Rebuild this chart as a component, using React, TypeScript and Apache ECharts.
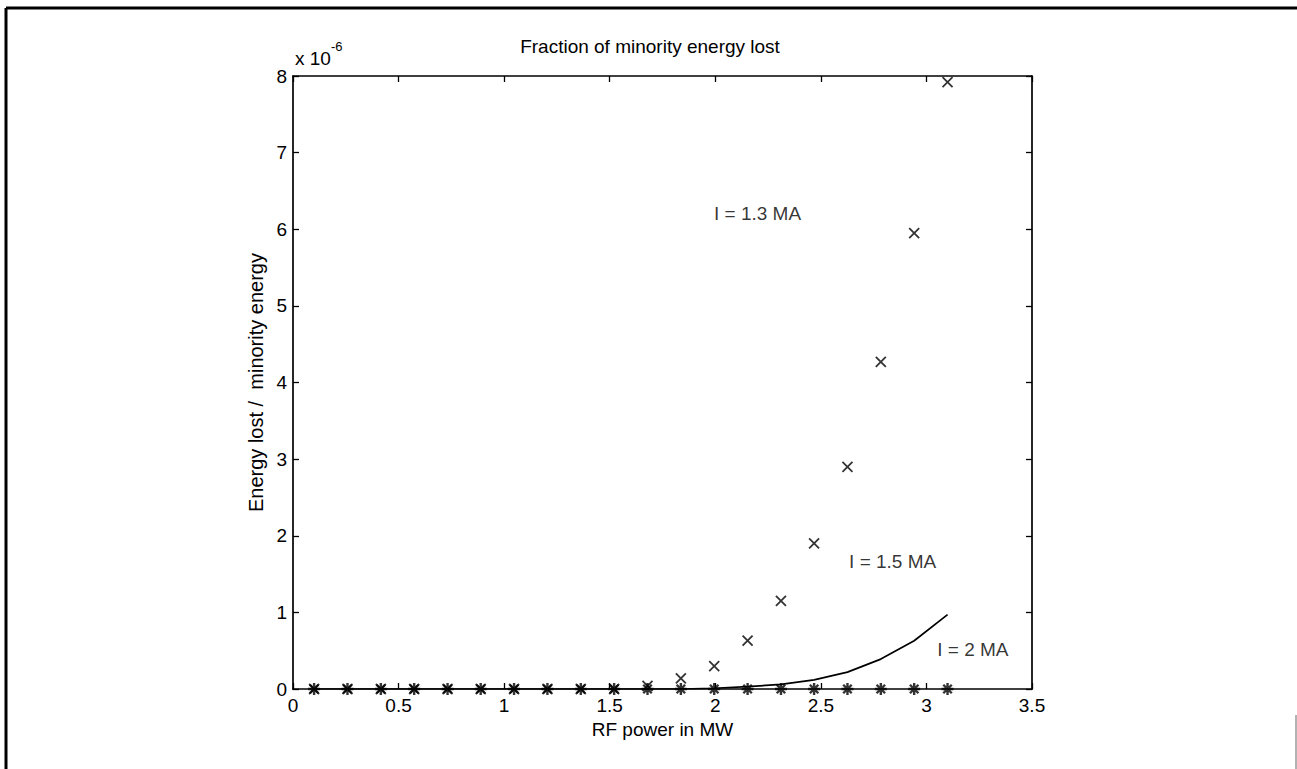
import React, { useEffect, useRef } from "react";
import * as echarts from "echarts";

// RF power (MW) sample points
const powerMW = [0.1, 0.258, 0.416, 0.574, 0.732, 0.889, 1.047, 1.205, 1.363, 1.521, 1.679, 1.837, 1.995, 2.153, 2.311, 2.468, 2.626, 2.784, 2.942, 3.1];
// Energy lost / minority energy (x 1e-6)
const lostI13 = [0, 0, 0, 0, 0, 0, 0, 0, 0, 0, 0.04, 0.14, 0.3, 0.63, 1.15, 1.9, 2.9, 4.27, 5.95, 7.92];
const lostI15 = [0, 0, 0, 0, 0, 0, 0, 0, 0, 0, 0, 0, 0.01, 0.03, 0.06, 0.12, 0.22, 0.39, 0.63, 0.97];
const lostI2 = [0, 0, 0, 0, 0, 0, 0, 0, 0, 0, 0, 0, 0, 0, 0, 0, 0, 0, 0, 0];

const curveLabels = ["I = 1.3 MA", "I = 1.5 MA", "I = 2 MA"];
const labelX = [2.2, 2.84, 3.22];
const labelY = [6.2, 1.66, 0.52];

const titleText = "Fraction of minority energy lost";
const xName = "RF power in MW";
const yName = "Energy lost /  minority energy";

const FONT = '"Liberation Sans", Arial, Helvetica, sans-serif';
const FS = 19;

const crossPath = "path://M0,0L10,10M0,10L10,0";
const starPath = "path://M0,0L10,10M0,10L10,0M5,-2.07L5,12.07M-2.07,5L12.07,5";

export default function App() {
  const ref = useRef<HTMLDivElement>(null);
  useEffect(() => {
    if (!ref.current) return;
    const chart = echarts.init(ref.current, null, { renderer: "svg" });
    const axisLine = { show: true, onZero: false, lineStyle: { color: "#000", width: 1.7 } };
    const axisTick = { show: true, inside: true, length: 6, lineStyle: { color: "#000", width: 1.3 } };
    const option: any = {
      animation: false,
      backgroundColor: "#fff",
      textStyle: { fontFamily: FONT, color: "#000" },
      grid: { left: 293, right: 265, top: 76, bottom: 80 },
      xAxis: [
        {
          type: "value", min: 0, max: 3.5, interval: 0.5, position: "bottom",
          axisLine, axisTick, splitLine: { show: false },
          axisLabel: { color: "#000", fontSize: FS, fontFamily: FONT, margin: 7 },
          name: xName, nameLocation: "middle", nameGap: 31,
          nameTextStyle: { color: "#000", fontSize: FS, fontFamily: FONT },
        },
        {
          type: "value", min: 0, max: 3.5, interval: 0.5, position: "top",
          axisLine, axisTick, splitLine: { show: false }, axisLabel: { show: false },
        },
      ],
      yAxis: [
        {
          type: "value", min: 0, max: 8, interval: 1, position: "left",
          axisLine, axisTick, splitLine: { show: false },
          axisLabel: { color: "#000", fontSize: FS, fontFamily: FONT, margin: 6 },
          name: yName, nameLocation: "middle", nameGap: 13,
          nameTextStyle: { color: "#000", fontSize: 20, fontFamily: FONT },
        },
        {
          type: "value", min: 0, max: 8, interval: 1, position: "right",
          axisLine, axisTick, splitLine: { show: false }, axisLabel: { show: false },
        },
      ],
      series: [
        {
          name: "I = 1.5 MA",
          type: "line",
          data: powerMW.map((x, i) => [x, lostI15[i]]),
          showSymbol: false,
          lineStyle: { color: "#000", width: 1.7 },
          z: 3,
        },
        {
          name: "I = 1.3 MA",
          type: "scatter",
          data: powerMW.map((x, i) => [x, lostI13[i]]),
          symbol: crossPath,
          symbolSize: 10,
          itemStyle: { color: "transparent", borderColor: "#000", borderWidth: 1.8 },
          z: 4,
        },
        {
          name: "I = 2 MA",
          type: "scatter",
          data: powerMW.map((x, i) => [x, lostI2[i]]),
          symbol: starPath,
          symbolSize: 12,
          itemStyle: { color: "transparent", borderColor: "#000", borderWidth: 2.4 },
          z: 5,
        },
        {
          name: "labels",
          type: "scatter",
          data: curveLabels.map((t, i) => ({ value: [labelX[i], labelY[i]], name: t })),
          symbolSize: 1,
          itemStyle: { color: "transparent" },
          label: {
            show: true, position: "inside", formatter: (p: any) => p.name,
            color: "#000", fontSize: FS, fontFamily: FONT, align: "center", verticalAlign: "middle",
          },
          silent: true,
          z: 6,
        },
      ],
      graphic: [
        {
          type: "text", x: 650, y: 46,
          style: { text: titleText, fill: "#000", fontSize: FS, fontFamily: FONT, align: "center", verticalAlign: "middle" },
        },
        {
          type: "text", x: 295, y: 58,
          style: { text: "x 10", fill: "#000", fontSize: FS, fontFamily: FONT, align: "left", verticalAlign: "middle" },
        },
        {
          type: "text", x: 331, y: 46,
          style: { text: "-6", fill: "#000", fontSize: 13, fontFamily: FONT, align: "left", verticalAlign: "middle" },
        },
        { type: "line", shape: { x1: 6, y1: 8, x2: 6, y2: 769 }, style: { stroke: "#000", lineWidth: 3 } },
        { type: "line", shape: { x1: 6, y1: 8, x2: 1297, y2: 8 }, style: { stroke: "#000", lineWidth: 3 } },
        { type: "line", shape: { x1: 1296, y1: 715, x2: 1296, y2: 769 }, style: { stroke: "#999", lineWidth: 1.5 } },
      ],
    };
    chart.setOption(option);
    return () => chart.dispose();
  }, []);
  return <div ref={ref} style={{ position: "fixed", left: 0, top: 0, width: 1297, height: 769 }} />;
}
